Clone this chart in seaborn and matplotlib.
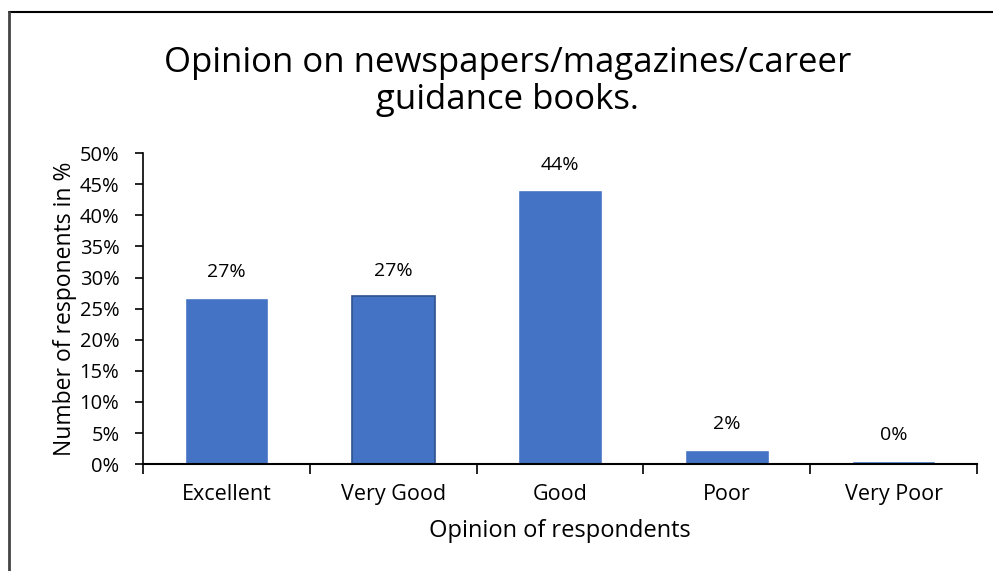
import matplotlib
matplotlib.use("Agg")
import matplotlib.pyplot as plt
import seaborn as sns
import pandas as pd
from matplotlib.lines import Line2D

categories = ["Excellent", "Very Good", "Good", "Poor", "Very Poor"]
values = [26.7, 27.0, 44.0, 2.3, 0.5]
labels = ["27%", "27%", "44%", "2%", "0%"]
yticks = [0, 5, 10, 15, 20, 25, 30, 35, 40, 45, 50]

sns.set_style("white")
plt.rcParams['font.family'] = ['Open Sans', 'DejaVu Sans']
plt.rcParams['text.color'] = 'black'
plt.rcParams['axes.labelcolor'] = 'black'
plt.rcParams['xtick.color'] = 'black'
plt.rcParams['ytick.color'] = 'black'

fig = plt.figure(figsize=(9.93, 5.71), dpi=100)
ax = fig.add_axes([0.144, 0.187, 0.840, 0.545])

df = pd.DataFrame({"cat": categories, "val": values})
sns.barplot(data=df, x="cat", y="val", color="#4472C4", saturation=1, width=0.5, ax=ax)
ax.patches[1].set_edgecolor("#2F528F")
ax.patches[1].set_linewidth(1.2)

for i, (v, lab) in enumerate(zip(values, labels)):
    ax.annotate(lab, (i, v), xytext=(0, 12), textcoords="offset points",
                ha="center", va="bottom", fontsize=14, color="black")

ax.set_ylim(0, 50)
ax.set_xlim(-0.5, 4.5)
ax.set_yticks(yticks)
ax.set_yticklabels([f"{t}%" for t in yticks], fontsize=14.5)
ax.set_xticks(range(len(categories)))
ax.set_xticklabels(categories, fontsize=15.5)
ax.set_xticks([-0.5, 0.5, 1.5, 2.5, 3.5, 4.5], minor=True)
ax.tick_params(axis="x", which="major", bottom=True, length=0, pad=14)
ax.tick_params(axis="x", which="minor", bottom=True, length=7, width=1.2, color="black", direction="out")
ax.tick_params(axis="y", left=True, length=6, width=1.2, color="black", direction="out", pad=11)

for s in ["top", "right"]:
    ax.spines[s].set_visible(False)
ax.spines["left"].set_color("black")
ax.spines["bottom"].set_color("black")
ax.spines["left"].set_linewidth(1.2)
ax.spines["bottom"].set_linewidth(1.5)

ax.set_xlabel("Opinion of respondents", fontsize=17, labelpad=10)
ax.set_ylabel("Number of responents in %", fontsize=16.5, labelpad=2)

fig.text(0.511, 0.795, "Opinion on newspapers/magazines/career\nguidance books.",
         ha="center", va="bottom", fontsize=25, linespacing=1.1)

fig.add_artist(Line2D([0.009, 1.0], [0.979, 0.979], color="black", lw=1.5, transform=fig.transFigure))
fig.add_artist(Line2D([0.009, 0.009], [0.0, 0.979], color="#444444", lw=2, transform=fig.transFigure))

fig.savefig("out.png", dpi=100)
